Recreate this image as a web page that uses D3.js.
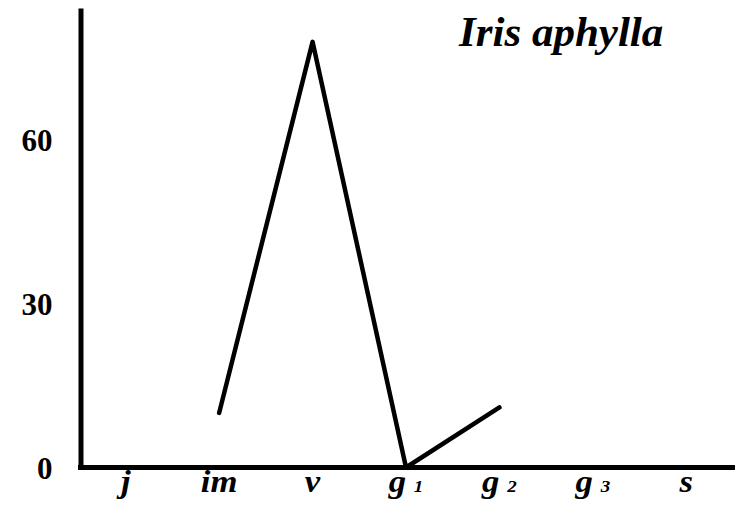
<!DOCTYPE html>
<html>
<head>
<meta charset="utf-8">
<script src="https://cdn.jsdelivr.net/npm/d3@7"></script>
<style>
  html, body { margin: 0; padding: 0; background: #fff; }
  svg { display: block; }
  text { font-family: "Liberation Serif", "Times New Roman", serif; font-weight: bold; fill: #000; }
</style>
</head>
<body>
<svg id="chart" width="737" height="523"></svg>
<script>
// Phenological stages and the share recorded at each one
const stages = ["j", "im", "v", "g1", "g2", "g3", "s"];
const stageBase = ["j", "im", "v", "g", "g", "g", "s"];
const stageSub = ["", "", "", "1", "2", "3", ""];
const values = [null, 10, 78, 0, 11, null, null];
const yTicks = [0, 30, 60];
const title = "Iris aphylla";

const svg = d3.select("#chart");

const x = d3.scalePoint().domain(stages).range([79, 733]).padding(0.5);
const y = d3.scaleLinear().domain([0, 84.2]).range([467.5, 8]);

// Y axis: thick line, bold tick numbers, no tick marks
const yAxis = svg.append("g")
  .attr("transform", "translate(80.5,0)")
  .call(d3.axisLeft(y).tickValues(yTicks).tickSize(0).tickPadding(28).tickFormat(d3.format("d")));
yAxis.select(".domain").attr("stroke", "#000").attr("stroke-width", 5);
yAxis.selectAll(".tick text")
  .attr("font-size", 31)
  .attr("dy", "0.34em")
  .attr("fill", "#000");

// X axis line along the zero value
svg.append("line")
  .attr("x1", 78).attr("x2", 735)
  .attr("y1", y(0)).attr("y2", y(0))
  .attr("stroke", "#000").attr("stroke-width", 5);

// Stage labels, with small index numbers for the generative stages
const labels = svg.append("g").selectAll("text")
  .data(stages)
  .join("text")
  .attr("transform", d => `translate(${x(d)},492) scale(1.12,1)`)
  .attr("text-anchor", "middle")
  .attr("font-size", 31)
  .attr("font-style", "italic");
labels.append("tspan").text((d, i) => stageBase[i]);
labels.filter((d, i) => stageSub[i] !== "")
  .append("tspan")
  .attr("font-size", 17)
  .attr("dx", 7)
  .text(d => stageSub[stages.indexOf(d)]);

// Data line, broken where no value was recorded
const line = d3.line()
  .defined(d => d.v !== null)
  .x(d => x(d.s))
  .y(d => y(d.v));
svg.append("path")
  .datum(stages.map((s, i) => ({ s, v: values[i] })))
  .attr("d", line)
  .attr("fill", "none")
  .attr("stroke", "#000")
  .attr("stroke-width", 4.5)
  .attr("stroke-linejoin", "round")
  .attr("stroke-linecap", "round");

// Species name
svg.append("text")
  .attr("x", 459)
  .attr("y", 46)
  .attr("font-size", 43)
  .attr("font-style", "italic")
  .text(title);
</script>
</body>
</html>
